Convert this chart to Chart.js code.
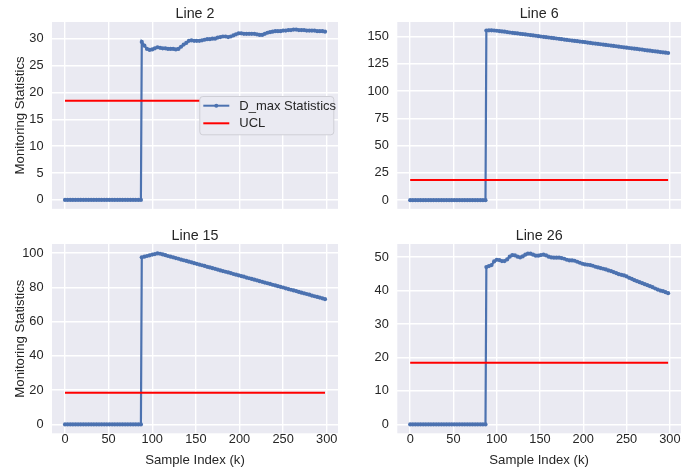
<!DOCTYPE html>
<html>
<head>
<meta charset="utf-8">
<script src="https://cdn.jsdelivr.net/npm/chart.js@4.4.1/dist/chart.umd.min.js"></script>
<style>
    body { margin: 0; background: #ffffff; width: 685px; height: 469px; position: relative; overflow: hidden; }
    canvas { position: absolute; }
</style>
</head>
<body>
<canvas id="chart-line-2" style="left:0px;top:0px;width:342px;height:225px" width="342" height="225"></canvas>
<canvas id="chart-line-6" style="left:342px;top:0px;width:343px;height:225px" width="343" height="225"></canvas>
<canvas id="chart-line-15" style="left:0px;top:225px;width:342px;height:244px" width="342" height="244"></canvas>
<canvas id="chart-line-26" style="left:342px;top:225px;width:343px;height:244px" width="343" height="244"></canvas>
<script>
// —— Données
const sampleIndex = [
    0, 3, 6, 9, 12, 15, 18, 21, 24, 27, 30, 33, 36, 39, 42, 45, 48, 51, 54, 57,
    60, 63, 66, 69, 72, 75, 78, 81, 84, 87,
    88, 91, 94, 97, 100, 103, 106, 109, 112, 115, 118, 121, 124, 127, 130, 133, 136, 139, 142, 145,
    148, 151, 154, 157, 160, 163, 166, 169, 172, 175, 178, 181, 184, 187, 190, 193, 196, 199, 202, 205,
    208, 211, 214, 217, 220, 223, 226, 229, 232, 235, 238, 241, 244, 247, 250, 253, 256, 259, 262, 265,
    268, 271, 274, 277, 280, 283, 286, 289, 292, 295, 298,
];

const line2 = [
    0, 0, 0, 0, 0, 0, 0, 0, 0, 0, 0, 0, 0, 0, 0, 0, 0, 0, 0, 0,
    0, 0, 0, 0, 0, 0, 0, 0, 0, 0,
    29.4, 28.7, 28.1, 27.9, 28.0, 28.2, 28.4, 28.3, 28.2, 28.2, 28.1, 28.1, 28.1, 28.0, 28.1, 28.5, 28.9, 29.2, 29.6, 29.7,
    29.6, 29.6, 29.6, 29.7, 29.8, 29.9, 29.9, 30.0, 30.0, 30.2, 30.3, 30.4, 30.4, 30.3, 30.4, 30.6, 30.8, 31.0, 31.0, 30.9,
    30.9, 30.9, 30.9, 30.9, 30.8, 30.7, 30.7, 30.9, 31.1, 31.2, 31.3, 31.4, 31.4, 31.4, 31.5, 31.5, 31.6, 31.6, 31.7, 31.7,
    31.6, 31.6, 31.6, 31.5, 31.5, 31.5, 31.5, 31.4, 31.4, 31.4, 31.3,
];

const line6 = [
    0, 0, 0, 0, 0, 0, 0, 0, 0, 0, 0, 0, 0, 0, 0, 0, 0, 0, 0, 0,
    0, 0, 0, 0, 0, 0, 0, 0, 0, 0,
    155.4, 155.6, 155.6, 155.4, 155.2, 154.9, 154.6, 154.3, 154.0, 153.6, 153.3, 153.0, 152.7, 152.4, 152.1, 151.8, 151.5, 151.2, 150.9, 150.6,
    150.2, 149.9, 149.6, 149.3, 149.0, 148.7, 148.4, 148.1, 147.8, 147.5, 147.1, 146.8, 146.5, 146.2, 145.9, 145.6, 145.3, 145.0, 144.7, 144.4,
    144.0, 143.7, 143.4, 143.1, 142.8, 142.5, 142.2, 141.9, 141.6, 141.3, 141.0, 140.6, 140.3, 140.0, 139.7, 139.4, 139.1, 138.8, 138.5, 138.2,
    137.9, 137.5, 137.2, 136.9, 136.6, 136.3, 136.0, 135.7, 135.4, 135.1, 134.8,
];

const line15 = [
    0, 0, 0, 0, 0, 0, 0, 0, 0, 0, 0, 0, 0, 0, 0, 0, 0, 0, 0, 0,
    0, 0, 0, 0, 0, 0, 0, 0, 0, 0,
    97.5, 97.9, 98.3, 98.7, 99.1, 99.4, 99.8, 99.6, 99.2, 98.8, 98.3, 97.9, 97.5, 97.1, 96.7, 96.2, 95.8, 95.4, 95.0, 94.6,
    94.1, 93.7, 93.3, 92.9, 92.5, 92.0, 91.6, 91.2, 90.8, 90.4, 89.9, 89.5, 89.1, 88.7, 88.3, 87.8, 87.4, 87.0, 86.6, 86.2,
    85.7, 85.3, 84.9, 84.5, 84.1, 83.6, 83.2, 82.8, 82.4, 82.0, 81.5, 81.1, 80.7, 80.3, 79.9, 79.4, 79.0, 78.6, 78.2, 77.8,
    77.3, 76.9, 76.5, 76.1, 75.7, 75.2, 74.8, 74.4, 74.0, 73.6, 73.1,
];

const line26 = [
    0, 0, 0, 0, 0, 0, 0, 0, 0, 0, 0, 0, 0, 0, 0, 0, 0, 0, 0, 0,
    0, 0, 0, 0, 0, 0, 0, 0, 0, 0,
    47.0, 47.3, 47.6, 48.7, 49.2, 49.1, 48.8, 48.8, 49.3, 50.1, 50.6, 50.5, 50.1, 49.9, 50.2, 50.7, 51.0, 51.0, 50.7, 50.4,
    50.4, 50.6, 50.7, 50.5, 50.1, 49.9, 49.8, 49.8, 49.8, 49.7, 49.5, 49.2, 49.0, 49.0, 48.9, 48.6, 48.3, 48.0, 47.8, 47.7,
    47.6, 47.4, 47.1, 46.9, 46.7, 46.5, 46.3, 46.0, 45.8, 45.5, 45.2, 44.9, 44.7, 44.5, 44.2, 43.8, 43.5, 43.1, 42.8, 42.5,
    42.2, 41.9, 41.6, 41.3, 41.0, 40.6, 40.3, 40.0, 39.8, 39.5, 39.2,
];

const UCL = 18.45;

const xTicks = [0, 50, 100, 150, 200, 250, 300];
const yTicks2 = [0, 5, 10, 15, 20, 25, 30];
const yTicks6 = [0, 25, 50, 75, 100, 125, 150];
const yTicks15 = [0, 20, 40, 60, 80, 100];
const yTicks26 = [0, 10, 20, 30, 40, 50];

// —— Style seaborn darkgrid
const blue = '#4C72B0';
const red = '#FF0000';
const text = '#262626';
const family = "'Liberation Sans', Arial, sans-serif";

// fond gris-bleu de la zone de tracé
const panelBackground = {
    id: 'panelBackground',
    beforeDraw(chart) {
        const { ctx, chartArea: a } = chart;
        ctx.save();
        ctx.fillStyle = '#EAEAF2';
        ctx.fillRect(a.left, a.top, a.right - a.left, a.bottom - a.top);
        ctx.restore();
    },
};

// titre de chaque sous-graphe
const panelTitle = {
    id: 'panelTitle',
    afterDraw(chart, args, opts) {
        const { ctx, chartArea: a } = chart;
        ctx.save();
        ctx.font = `14.3px ${family}`;
        ctx.fillStyle = text;
        ctx.textAlign = 'center';
        ctx.textBaseline = 'alphabetic';
        ctx.fillText(opts.text, (a.left + a.right) / 2, a.top - 4.5);
        ctx.restore();
    },
};

// légende dans le premier sous-graphe
const panelLegend = {
    id: 'panelLegend',
    afterDatasetsDraw(chart, args, opts) {
        if (!opts.display) return;
        const { ctx, chartArea: a } = chart;
        const w = 134, h = 38.3;
        const x = a.right - 4.7 - w, y = 96;
        ctx.save();
        ctx.beginPath();
        ctx.roundRect(x + 0.5, y + 0.5, w, h, 3);
        ctx.fillStyle = '#EAEAF2';
        ctx.fill();
        ctx.strokeStyle = '#CFCFD6';
        ctx.lineWidth = 1;
        ctx.stroke();
        ctx.font = `13px ${family}`;
        ctx.textBaseline = 'middle';
        ctx.textAlign = 'left';
        chart.data.datasets.forEach((ds, i) => {
            const ly = y + 9.7 + i * 17.6;
            ctx.strokeStyle = ds.borderColor;
            ctx.lineWidth = 2;
            ctx.beginPath();
            ctx.moveTo(x + 4, ly);
            ctx.lineTo(x + 30, ly);
            ctx.stroke();
            if (ds.pointRadius) {
                ctx.fillStyle = ds.borderColor;
                ctx.beginPath();
                ctx.arc(x + 17, ly, 2, 0, Math.PI * 2);
                ctx.fill();
            }
            ctx.fillStyle = text;
            ctx.fillText(ds.label, x + 40, ly + 0.5);
        });
        ctx.restore();
    },
};

function makePanel(id, title, values, yMin, yMax, yTicks, p) {
    const canvas = document.getElementById(id);
    const ctx = canvas.getContext('2d');
    const W = canvas.width, H = canvas.height;
    return new Chart(ctx, {
        type: 'line',
        data: {
            datasets: [
                {
                    label: 'D_max Statistics',
                    data: sampleIndex.map((x, i) => ({ x, y: values[i] })),
                    borderColor: blue,
                    backgroundColor: blue,
                    pointBackgroundColor: blue,
                    borderWidth: 2.2,
                    pointRadius: 2.1,
                    pointBorderWidth: 0,
                    tension: 0,
                    order: 1,
                },
                {
                    label: 'UCL',
                    data: [
                        { x: sampleIndex[0], y: UCL },
                        { x: sampleIndex[sampleIndex.length - 1], y: UCL },
                    ],
                    borderColor: red,
                    borderWidth: 2,
                    pointRadius: 0,
                    order: 0,
                },
            ],
        },
        options: {
            responsive: false,
            animation: false,
            devicePixelRatio: 1,
            events: [],
            layout: { padding: { left: 0, top: p.top, right: W - p.right, bottom: 0 } },
            plugins: {
                legend: { display: false },
                tooltip: { enabled: false },
                panelTitle: { text: title },
                panelLegend: { display: !!p.legend },
            },
            scales: {
                x: {
                    type: 'linear',
                    min: -14.9,
                    max: 312.9,
                    afterBuildTicks: (s) => { s.ticks = xTicks.map((v) => ({ value: v })); },
                    afterFit: (s) => { s.height = H - p.bottom; },
                    grid: { color: '#ffffff', lineWidth: 1.4, drawTicks: false },
                    border: { display: false },
                    ticks: {
                        display: !!p.xLabel,
                        padding: 0,
                        maxRotation: 0,
                        color: text,
                        font: { family, size: 12.8, lineHeight: 1 },
                    },
                    title: {
                        display: !!p.xLabel,
                        text: 'Sample Index (k)',
                        color: text,
                        font: { family, size: 13.2 },
                        padding: { top: 0, bottom: 1 },
                    },
                },
                y: {
                    min: yMin,
                    max: yMax,
                    afterBuildTicks: (s) => { s.ticks = yTicks.map((v) => ({ value: v })); },
                    afterFit: (s) => { s.width = p.left; },
                    grid: { color: '#ffffff', lineWidth: 1.4, drawTicks: false },
                    border: { display: false },
                    ticks: {
                        padding: 8.5,
                        color: text,
                        font: { family, size: 12.8 },
                    },
                    title: {
                        display: !!p.yLabel,
                        text: 'Monitoring Statistics',
                        color: text,
                        font: { family, size: 13.2 },
                        padding: { top: 12, bottom: 0 },
                    },
                },
            },
        },
        plugins: [panelBackground, panelTitle, panelLegend],
    });
}

makePanel('chart-line-2', 'Line 2', line2, -1.65, 33.1, yTicks2,
    { left: 52, right: 338, top: 22, bottom: 209, yLabel: true, legend: true });
makePanel('chart-line-6', 'Line 6', line6, -7.9, 163.2, yTicks6,
    { left: 55.3, right: 342, top: 22, bottom: 209 });
makePanel('chart-line-15', 'Line 15', line15, -5.2, 105.3, yTicks15,
    { left: 52, right: 338, top: 19, bottom: 208.3, yLabel: true, xLabel: true });
makePanel('chart-line-26', 'Line 26', line26, -2.65, 53.9, yTicks26,
    { left: 55.3, right: 342, top: 19, bottom: 208.3, xLabel: true });
</script>
</body>
</html>
